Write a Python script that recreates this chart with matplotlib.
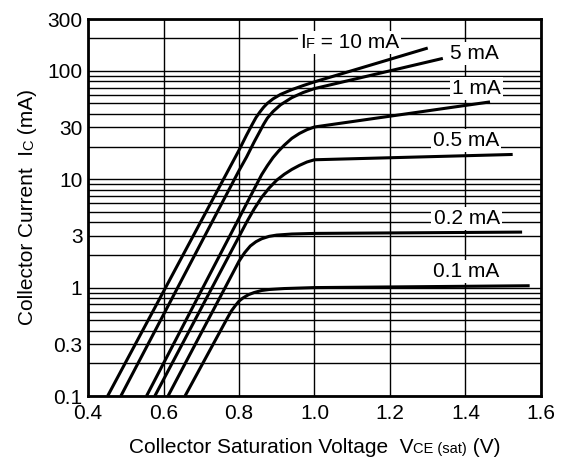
import matplotlib
matplotlib.use('Agg')
import matplotlib.pyplot as plt
from matplotlib.ticker import LogLocator, NullFormatter
from matplotlib.transforms import IdentityTransform
from matplotlib.font_manager import FontProperties

plt.rcParams['font.family'] = ['Liberation Sans', 'DejaVu Sans']

# curves: V_CE(sat) (V) vs I_C (mA)
v_10 = [0.452, 0.80, 0.82, 0.835, 0.845, 0.855, 0.865, 0.875, 0.89, 0.91, 0.94, 0.97, 1.00, 1.30]
i_10 = [0.1, 18.5, 25.5, 32, 37, 41.5, 46, 50, 55, 60.5, 67, 73, 79, 162]
v_5 = [0.487, 0.80, 0.82, 0.84, 0.855, 0.865, 0.875, 0.89, 0.91, 0.94, 0.97, 1.00, 1.34]
i_5 = [0.1, 12, 16, 22, 27.5, 32, 36.5, 42, 48.5, 56.5, 63, 68.5, 130]
v_1 = [0.555, 0.86, 0.875, 0.89, 0.905, 0.92, 0.94, 0.96, 0.98, 1.00, 1.465]
i_1 = [0.1, 11, 13.3, 15.8, 18.2, 20.6, 23.8, 26.4, 28.6, 30.3, 51.6]
v_05 = [0.577, 0.82, 0.84, 0.86, 0.88, 0.90, 0.92, 0.94, 0.96, 0.98, 1.00, 1.525]
i_05 = [0.1, 4.0, 5.3, 6.8, 8.3, 9.8, 11.1, 12.3, 13.4, 14.4, 15.1, 16.9]
v_02 = [0.612, 0.80, 0.815, 0.83, 0.845, 0.86, 0.88, 0.90, 0.94, 1.00, 1.55]
i_02 = [0.1, 1.75, 2.1, 2.42, 2.65, 2.82, 2.97, 3.05, 3.12, 3.16, 3.25]
v_01 = [0.657, 0.77, 0.78, 0.79, 0.80, 0.81, 0.825, 0.84, 0.86, 0.88, 0.92, 1.00, 1.57]
i_01 = [0.1, 0.53, 0.61, 0.68, 0.75, 0.80, 0.86, 0.90, 0.94, 0.96, 0.98, 1.0, 1.04]

x_ticks = [0.4, 0.6, 0.8, 1.0, 1.2, 1.4, 1.6]
x_tick_labels = ['0.4', '0.6', '0.8', '1.0', '1.2', '1.4', '1.6']
y_ticks = [0.1, 0.3, 1, 3, 10, 30, 100, 300]
y_tick_labels = ['0.1', '0.3', '1', '3', '10', '30', '100', '300']

curve_labels = ['5 mA', '1 mA', '0.5 mA', '0.2 mA', '0.1 mA']
label_pos = [(1.424, 144), (1.429, 68.5), (1.402, 22.9), (1.403, 4.35), (1.403, 1.40)]

FS = 15
FS_SMALL = 10.5

fig = plt.figure(figsize=(5.66, 4.72), dpi=100)
ax = fig.add_axes([0.1555, 0.161, 0.8003, 0.7987])

for v, i in [(v_10, i_10), (v_5, i_5), (v_1, i_1), (v_05, i_05), (v_02, i_02), (v_01, i_01)]:
    ax.plot(v, i, color='black', lw=2.2, solid_joinstyle='round', solid_capstyle='butt', zorder=3)

ax.set_yscale('log')
ax.set_xlim(0.4, 1.6)
ax.set_ylim(0.1, 300)
ax.set_xticks(x_ticks)
ax.set_xticklabels(x_tick_labels)
ax.set_yticks(y_ticks)
ax.set_yticklabels(y_tick_labels)
ax.yaxis.set_minor_locator(LogLocator(base=10, subs=range(2, 10), numticks=20))
ax.yaxis.set_minor_formatter(NullFormatter())
ax.tick_params(which='both', length=0, labelsize=FS, colors='black')
ax.tick_params(axis='x', pad=6)
ax.tick_params(axis='y', pad=4)
ax.grid(True, which='both', color='black', lw=1.0)
for s in ax.spines.values():
    s.set_linewidth(2.0)
    s.set_zorder(5)

for txt, (x, y) in zip(curve_labels, label_pos):
    ax.text(x, y, txt, fontsize=FS, ha='center', va='center', zorder=4,
            bbox=dict(fc='white', ec='none', pad=1.5))

renderer = fig.canvas.get_renderer()


def text_width(s, size):
    prop = FontProperties(family=['Liberation Sans'], size=size)
    w1, _, _ = renderer.get_text_width_height_descent('|' + s + '|', prop, ismath=False)
    w0, _, _ = renderer.get_text_width_height_descent('||', prop, ismath=False)
    return w1 - w0


def chain_text(cx, cy, parts, rotation=0, **kw):
    # parts of mixed size placed on one baseline, centred at (cx, cy) in pixels
    widths = [text_width(s, fs) for s, fs in parts]
    pos = -sum(widths) / 2
    for (s, fs), w in zip(parts, widths):
        xy = (cx, cy + pos) if rotation else (cx + pos, cy)
        fig.text(xy[0], xy[1], s, fontsize=fs, rotation=rotation, rotation_mode='anchor',
                 ha='left', va='baseline', transform=IdentityTransform(), **kw)
        pos += w


chain_text(314.5, 19, [('Collector Saturation Voltage  V', FS), ('CE (sat)', FS_SMALL), (' (V)', FS)])
chain_text(33, 265, [('Collector Current  I', FS), ('C', FS_SMALL), (' (mA)', FS)], rotation=90)
# white backing first, then the text itself on top
if_parts = [('I', FS), ('F', FS_SMALL), (' = 10 mA', FS)]
chain_text(349.7, 424, if_parts, color=(0, 0, 0, 0),
           bbox=dict(fc='white', ec='none', pad=1.5), zorder=6)
chain_text(349.7, 424, if_parts, zorder=7)

fig.savefig('out.png', dpi=100)
